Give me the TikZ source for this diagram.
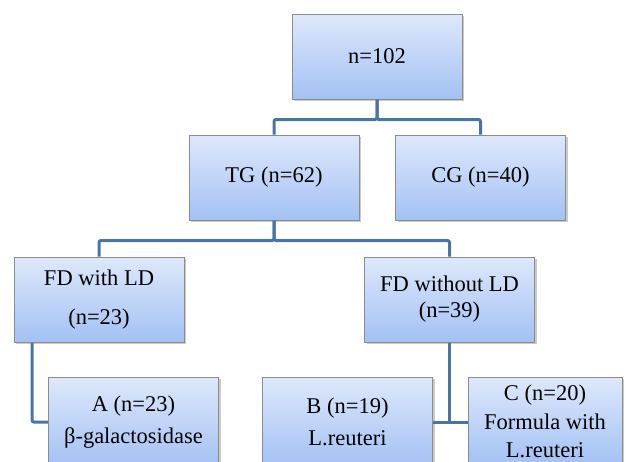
\documentclass[tikz,border=0pt]{standalone}
\usepackage{fontspec}
\setmainfont{Liberation Serif}
\usetikzlibrary{positioning, shadows, calc}
\definecolor{linkblue}{RGB}{74,116,166}
\definecolor{boxtop}{RGB}{222,232,251}
\definecolor{boxbottom}{RGB}{163,193,244}
\definecolor{boxedge}{RGB}{140,140,140}

\begin{document}
\begin{tikzpicture}[x=1pt,y=-1pt,
    box/.style={draw=boxedge,line width=1pt,top color=boxtop,bottom color=boxbottom,
      minimum width=170pt,minimum height=85pt,inner sep=0pt,align=center,
      font=\fontsize{22.5}{26}\selectfont,
      drop shadow={shadow xshift=2pt,shadow yshift=-2pt,opacity=0.35,fill=black!60}},
    link/.style={draw=linkblue,line width=3pt,rounded corners=2pt}]

  \useasboundingbox (0,0) rectangle (626,461);
  \clip (0,0) rectangle (626,461);

  % groups
  \node[box] (total) at (377,56.5) {n=102};
  \node[box] (tg) at (274,177.5) {TG (n=62)};
  \node[box] (cg) at (480.5,177.5) {CG (n=40)};
  \node[box] (fdw) at (99,299.5) {FD with LD\\[13pt] (n=23)};
  \node[box] (fdwo) at (449.5,299.5) {FD without LD\\ (n=39)};
  \node[box,minimum height=90pt] (ga) at (133.5,422) {A (n=23)\\[6pt] β-galactosidase};
  \node[box,minimum height=90pt] (gb) at (347.5,422) {B (n=19)\\[6pt] L.reuteri};
  \node[box,minimum width=154pt,minimum height=88pt] (gc) at (545,421)
    {C (n=20)\\[3pt] Formula with\\[2pt] L.reuteri};

  % connectors
  \draw[link] (total.south) -- ++(0,20) -| (tg.north);
  \draw[link] (total.south) -- ++(0,20) -| (cg.north);
  \draw[link] (tg.south) -- ++(0,20) -| (fdw.north);
  \draw[link] (tg.south) -- ++(0,20) -| (fdwo.north);
  \draw[link] ([xshift=-67pt]fdw.south) |- (ga.west);
  \draw[link] (fdwo.south) -- (fdwo.south |- gb.east);
  \draw[link] (gb.east) -- (gc.west |- gb.east);
\end{tikzpicture}
\end{document}
